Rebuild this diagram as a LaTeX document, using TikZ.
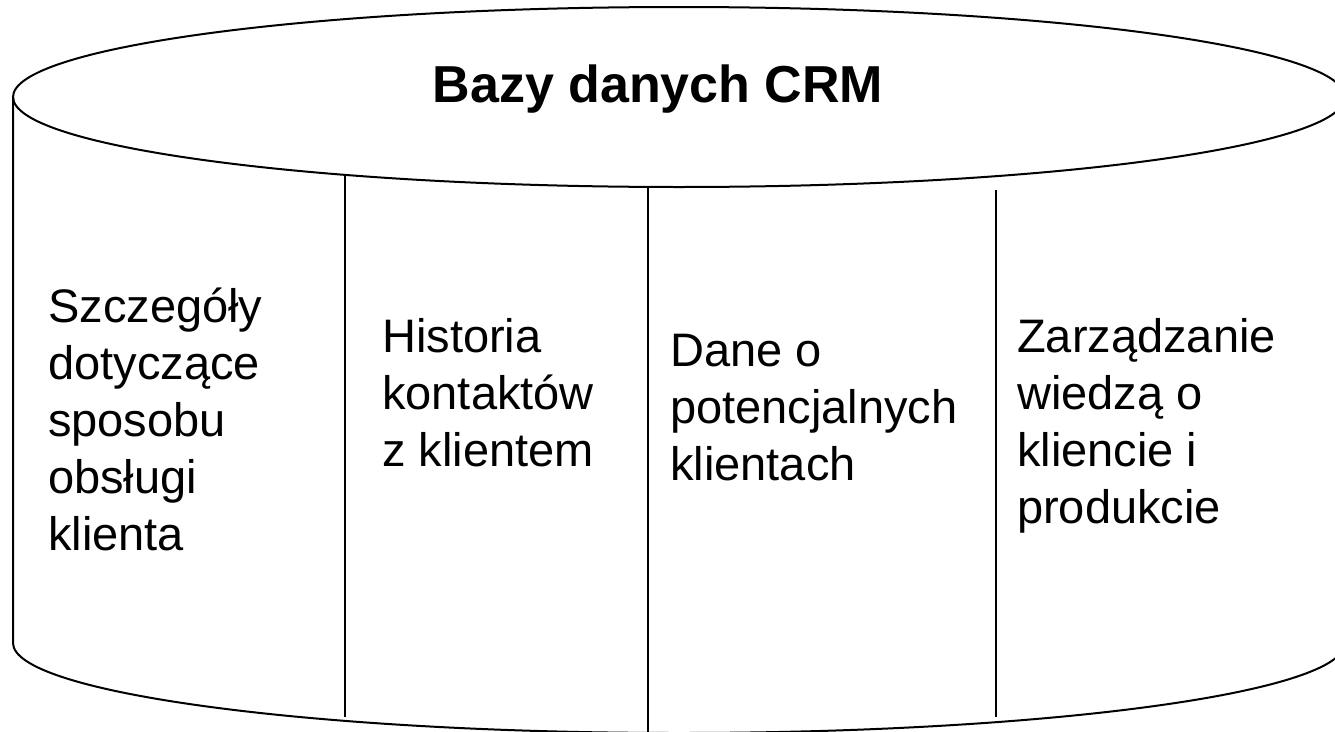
\documentclass[tikz,border=0pt]{standalone}
\usepackage{fontspec}
\setmainfont{Liberation Sans}
\begin{document}
\begin{tikzpicture}[x=1pt,y=-1pt,
  outline/.style={line width=2pt, black},
  divider/.style={line width=1.8pt, black},
  title/.style={font=\fontsize{52}{62}\selectfont\bfseries, inner sep=0pt, anchor=base},
  column/.style={font=\fontsize{47}{57}\selectfont, align=left, inner sep=0pt, anchor=north west}]
  \useasboundingbox (0,0) rectangle (1335,731);
  \clip (0,0) rectangle (1335,731);
  % cylinder body
  \draw[outline] (679,97) ellipse [x radius=666pt, y radius=90pt];
  \draw[outline] (13,97) -- (13,643)
     arc[start angle=180, end angle=360, x radius=666pt, y radius=90pt]
     -- (1345,97);
  % column dividers
  \coordinate (d1t) at (345,174);  \coordinate (d1b) at (345,717);
  \coordinate (d2t) at (648,188);  \coordinate (d2b) at (648,735);
  \coordinate (d3t) at (996,190);  \coordinate (d3b) at (996,717);
  \draw[divider] (d1t) -- (d1b);
  \draw[divider] (d2t) -- (d2b);
  \draw[divider] (d3t) -- (d3b);
  % title on the lid
  \node[title] (title) at (658,102) {Bazy danych CRM};
  % column texts (first baseline sits one strut height below the node top)
  \node[column] (c1) at (48,282) {\strut Szczegóły\\dotyczące\\sposobu\\obsługi\\klienta};
  \node[column] (c2) at (382,312) {\strut Historia\\kontaktów\\z klientem};
  \node[column] (c3) at (670,326) {\strut Dane o\\potencjalnych\\klientach};
  \node[column] (c4) at (1017,312) {\strut Zarządzanie\\wiedzą o\\kliencie i\\produkcie};
\end{tikzpicture}
\end{document}
